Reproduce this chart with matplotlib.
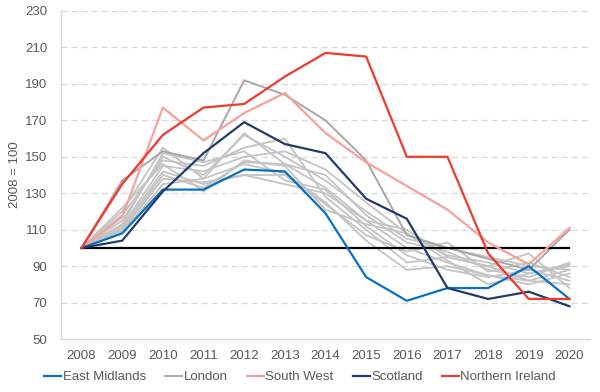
import numpy as np
import matplotlib.pyplot as plt

plt.rcParams['font.family'] = ['Liberation Sans', 'DejaVu Sans']

years = ['2008', '2009', '2010', '2011', '2012', '2013', '2014',
         '2015', '2016', '2017', '2018', '2019', '2020']

east_midlands = [100, 108, 132, 132, 143, 142, 119, 84, 71, 78, 78, 90, 72]
london = [100, 137, 153, 148, 192, 184, 170, 148, 107, 100, 94, 88, 110]
south_west = [100, 117, 177, 159, 174, 185, 163, 147, 134, 121, 103, 91, 111]
scotland = [100, 104, 131, 152, 169, 157, 152, 127, 116, 78, 72, 76, 68]
northern_ireland = [100, 135, 162, 177, 179, 194, 207, 205, 150, 150, 97, 72, 72]

# other regions (unlabelled grey lines)
other_regions = [
    [100, 120, 155, 138, 163, 146, 140, 118, 103, 98, 88, 84, 92],
    [100, 115, 150, 140, 162, 150, 137, 120, 105, 100, 95, 90, 88],
    [100, 112, 145, 142, 150, 153, 143, 125, 108, 96, 92, 86, 91],
    [100, 110, 140, 133, 147, 146, 133, 115, 100, 92, 85, 82, 80],
    [100, 118, 148, 145, 155, 160, 128, 110, 92, 95, 90, 97, 78],
    [100, 108, 135, 138, 146, 141, 125, 104, 88, 90, 85, 80, 86],
    [100, 113, 152, 147, 153, 137, 132, 112, 96, 88, 84, 88, 82],
    [100, 109, 138, 136, 140, 140, 124, 107, 98, 103, 87, 92, 84],
    [100, 122, 146, 131, 148, 145, 121, 113, 108, 93, 80, 86, 90],
    [100, 111, 142, 135, 140, 135, 130, 115, 110, 95, 90, 82, 88],
]
baseline = [100] * len(years)

x = np.arange(len(years))

fig = plt.figure(figsize=(6, 3.92), dpi=100)
ax = fig.add_axes([0.102, 0.135, 0.881, 0.837])

for vals in other_regions:
    ax.plot(x, vals, color='#c4c4c4', linewidth=1.3, zorder=2)
ax.plot(x, london, color='#a8a8a8', linewidth=1.4, zorder=2, label='London')
ax.plot(x, baseline, color='black', linewidth=1.6, zorder=3)
ax.plot(x, south_west, color='#f5a29c', linewidth=1.6, zorder=4, label='South West')
ax.plot(x, east_midlands, color='#0a70c2', linewidth=1.6, zorder=4, label='East Midlands')
ax.plot(x, scotland, color='#223b6b', linewidth=1.6, zorder=4, label='Scotland')
ax.plot(x, northern_ireland, color='#ef3a2d', linewidth=1.6, zorder=5, label='Northern Ireland')

ax.set_xlim(-0.5, len(years) - 0.5)
ax.set_ylim(50, 230)
ax.set_yticks(np.arange(50, 231, 20))
ax.set_xticks(x)
ax.set_xticklabels(years)
ax.tick_params(axis='both', length=0, labelsize=9.5, labelcolor='#595959')
ax.tick_params(axis='x', pad=8)
ax.tick_params(axis='y', pad=10)
ax.yaxis.grid(True, color='#d9d9d9', linestyle=(0, (5, 3)), linewidth=0.9)
ax.set_axisbelow(True)
for s in ['top', 'right']:
    ax.spines[s].set_visible(False)
for s in ['left', 'bottom']:
    ax.spines[s].set_color('#d9d9d9')
    ax.spines[s].set_linewidth(1.0)
ax.set_ylabel('2008 = 100', fontsize=9.5, color='#595959', labelpad=3)

handles, labels = ax.get_legend_handles_labels()
order = ['East Midlands', 'London', 'South West', 'Scotland', 'Northern Ireland']
hmap = dict(zip(labels, handles))
fig.legend([hmap[k] for k in order], order, loc='center', bbox_to_anchor=(0.5, 0.038),
           ncol=5, frameon=False, fontsize=9.5, handlelength=1.3, handletextpad=0.1,
           columnspacing=1.45, labelcolor='#595959')

fig.savefig('out.png', dpi=100)
